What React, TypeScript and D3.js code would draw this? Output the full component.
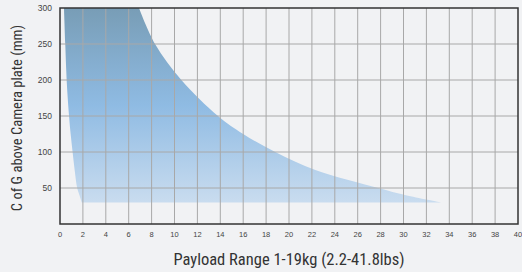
import React from "react";
import * as d3 from "d3";

// envelope of allowed centre of gravity vs payload
const cogLevels = [300, 250, 200, 150, 125, 100, 75, 50, 40, 30];
const minPayload = [0.35, 0.46, 0.58, 0.79, 0.93, 1.1, 1.28, 1.5, 1.7, 1.9];
const maxPayload = [6.9, 8.3, 10.6, 13.8, 16.0, 18.8, 22.3, 27.8, 30.2, 33.3];

const xTicks = d3.range(0, 41, 2);
const yTicks = [50, 100, 150, 200, 250, 300];

const W = 522;
const H = 272;
const m = { top: 8, right: 4, bottom: 48, left: 60 };
const font = "'Liberation Sans Narrow', 'Roboto Condensed', 'Arial Narrow', sans-serif";

export default function App() {
  const x = d3.scaleLinear().domain([0, 40]).range([m.left, W - m.right]);
  const y = d3.scaleLinear().domain([0, 300]).range([H - m.bottom, m.top]);

  const rows = cogLevels.map((c, i) => ({ c, lo: minPayload[i], hi: maxPayload[i] }));
  const area = d3
    .area<{ c: number; lo: number; hi: number }>()
    .y((d) => y(d.c))
    .x0((d) => x(d.lo))
    .x1((d) => x(d.hi))
    .curve(d3.curveCatmullRom.alpha(0.5));

  return (
    <svg
      width={W}
      height={H}
      style={{ position: "absolute", left: 0, top: 0, background: "#f1f2f4", display: "block" }}
    >
      <defs>
        <linearGradient id="fillGrad" x1="0" y1={y(300)} x2="0" y2={y(30)} gradientUnits="userSpaceOnUse">
          <stop offset="0" stopColor="#789db6" />
          <stop offset="0.5" stopColor="#8fbbe3" />
          <stop offset="1" stopColor="#c9dcef" />
        </linearGradient>
      </defs>

      <path d={area(rows) || ""} fill="url(#fillGrad)" />

      {/* grid */}
      {xTicks.slice(1, -1).map((t) => (
        <line key={"gx" + t} x1={x(t)} x2={x(t)} y1={y(300)} y2={y(0)} stroke="#a8a8a8" strokeWidth={1} />
      ))}
      {yTicks.slice(0, -1).map((t) => (
        <line key={"gy" + t} x1={x(0)} x2={x(40)} y1={y(t)} y2={y(t)} stroke="#a8a8a8" strokeWidth={1} />
      ))}

      <rect
        x={x(0)}
        y={y(300)}
        width={x(40) - x(0)}
        height={y(0) - y(300)}
        fill="none"
        stroke="#333"
        strokeWidth={1.5}
      />

      {/* tick labels */}
      {yTicks.map((t) => (
        <text key={"yl" + t} x={x(0) - 8} y={y(t) + 3} textAnchor="end" fontSize={8.5} fill="#444" fontFamily="Arial, sans-serif">
          {t}
        </text>
      ))}
      {xTicks.map((t) => (
        <text key={"xl" + t} x={x(t)} y={y(0) + 13} textAnchor="middle" fontSize={7.5} fill="#444" fontFamily="Arial, sans-serif">
          {t}
        </text>
      ))}

      <text
        x={289}
        y={265}
        textAnchor="middle"
        fontSize={16.5}
        fill="#333"
        fontFamily={font}
        style={{ fontStretch: "condensed" }}
      >
        Payload Range 1-19kg (2.2-41.8lbs)
      </text>
      <text
        transform={`translate(22, ${(y(300) + y(0)) / 2 + 2}) rotate(-90)`}
        textAnchor="middle"
        fontSize={14.5}
        fill="#333"
        fontFamily={font}
        style={{ fontStretch: "condensed" }}
      >
        C of G above Camera plate (mm)
      </text>
    </svg>
  );
}
